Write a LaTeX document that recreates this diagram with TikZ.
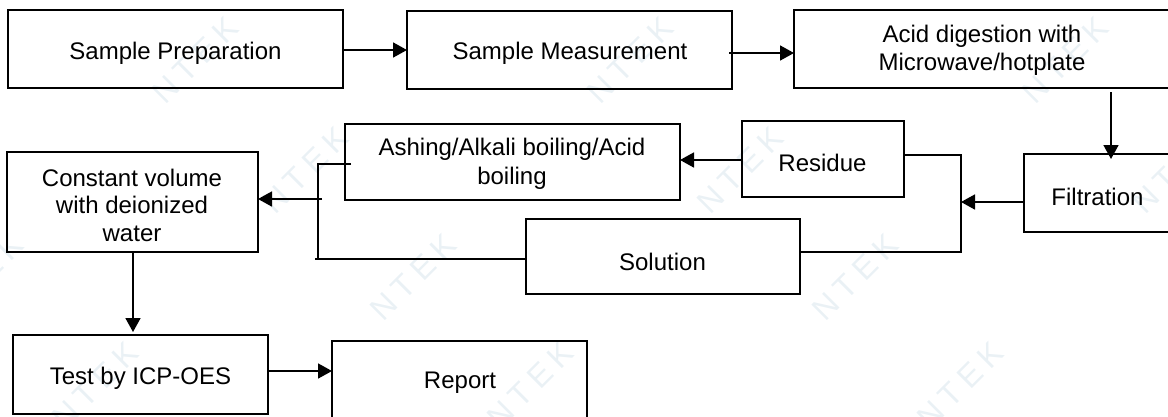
\documentclass[tikz,border=0pt]{standalone}
\usepackage{fontspec}
\setmainfont{Liberation Sans}
\usetikzlibrary{arrows.meta}
\definecolor{wmk}{HTML}{EAF1F5}
\newfontfamily\wmfont[LetterSpace=22]{Liberation Sans}
\tikzset{
  box/.style={draw=black,line width=1.7pt,inner sep=0pt,outer sep=0pt,anchor=north west,fill=none},
  txt/.style={inner sep=0pt,outer sep=0pt,align=center,text=black,font=\fontsize{24}{27.5}\selectfont},
  wire/.style={draw=black,line width=1.7pt},
  arr/.style={wire,-{Triangle[length=14pt,width=15pt]}},
  wm/.style={text=wmk,rotate=45,inner sep=0pt,font=\fontsize{32}{32}\wmfont}
}
\newcommand{\bx}[5]{\node[box,minimum width={(#4-#2)*1pt},minimum height={(#5-#3)*1pt}] (#1) at (#2,#3) {};}
\begin{document}
\begin{tikzpicture}[x=1pt,y=-1pt]
\useasboundingbox (0,0) rectangle (1168,416);
% watermark
\foreach \n/\x/\y in {a/195/60,b/630/60,c/1065/60,d/305/170,e/740/170,f/1175/170,g/-20/277,h/413/277,i/855/277,j/95/385,k/530/385,l/960/385}
  \node[wm] (wm\n) at (\x,\y) {NTEK};
% boxes
\bx{prep}{8}{10}{343}{88}
\bx{meas}{407}{11}{732}{89}
\bx{acid}{794}{10}{1180}{88}
\bx{filt}{1024}{154}{1180}{232}
\bx{resi}{742}{121}{904}{197}
\bx{ash}{345}{124}{680}{200}
\bx{sol}{526}{219}{800}{294}
\bx{const}{7}{152}{258}{252}
\bx{test}{13}{335}{268}{414}
\bx{rep}{332}{341}{587}{430}
% labels
\node[txt] (tprep) at (175.5,53) {Sample Preparation};
\node[txt] (tmeas) at (570,53.5) {Sample Measurement};
\node[txt] (tacid) at (982,50.5) {Acid digestion with\\Microwave/hotplate};
\node[txt] (tfilt) at (1097.5,197) {Filtration};
\node[txt] (tresi) at (822.5,163) {Residue};
\node[txt] (tash) at (512,163.5) {Ashing/Alkali boiling/Acid\\[1.5pt]boiling};
\node[txt] (tsol) at (662.5,261.5) {Solution};
\node[txt] (tconst) at (132,205) {Constant volume\\with deionized\\water};
\node[txt] (ttest) at (140.5,378) {Test by ICP-OES};
\node[txt] (trep) at (460,383) {Report};
% free-end coordinates
\coordinate (jr) at (961,202);
\coordinate (jl) at (322,199);
\coordinate (bt) at (318,164);
\coordinate (bb) at (315,259);
% connectors
\draw[arr] (prep.east |- 0,50) -- (meas.west |- 0,50);
\draw[arr] (729,53) -- (acid.west |- 0,53);
\draw[arr] (1111,92) -- (1111,159);
\draw[arr] (filt.west |- jr) -- (jr);
\draw[arr] (resi.west |- 0,160) -- (ash.east |- 0,160);
\draw[wire] (resi.east |- 0,155) -- (jr |- 0,155) -- (jr |- 0,252) -- (sol.east |- 0,252);
\draw[wire] (351,164) -- (bt) -- (bt |- bb);
\draw[wire] (bb) -- (sol.west |- bb);
\draw[arr] (jl) -- (const.east |- jl);
\draw[arr] (133,252) -- (133,332);
\draw[arr] (test.east |- 0,371) -- (rep.west |- 0,371);
\end{tikzpicture}
\end{document}
